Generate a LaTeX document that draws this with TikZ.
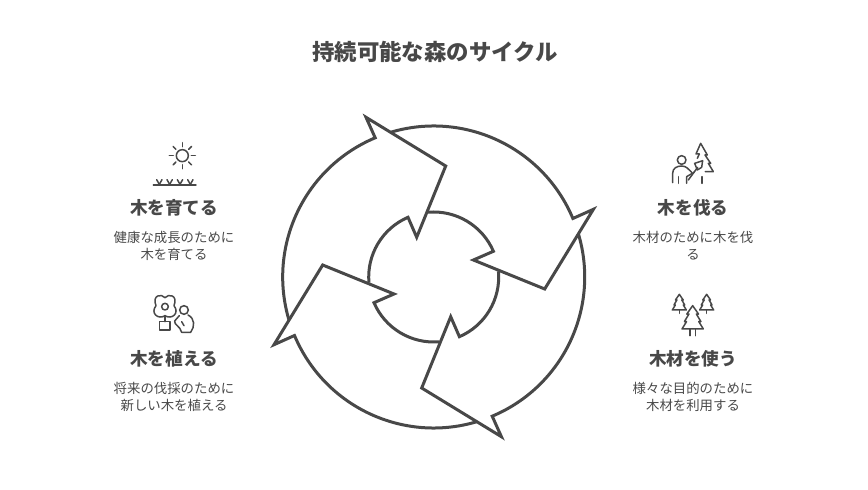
\documentclass[tikz,border=0pt]{standalone}
\usepackage{fontspec}
\setmainfont{Noto Sans CJK JP}
\definecolor{ink}{HTML}{484848}
\tikzstyle{title} = [text=ink, font=\fontsize{22.4}{26}\bfseries\selectfont]
\tikzstyle{head} = [text=ink, font=\fontsize{17.6}{21}\bfseries\selectfont]
\tikzstyle{desc} = [text=ink, align=center, font=\fontsize{13.4}{17}\selectfont]
\tikzstyle{ring} = [draw=ink, line width=3pt]
\tikzstyle{icon} = [draw=ink, line width=1.5pt, line cap=round, line join=round]
\tikzstyle{zoomed} = [x=0.3333pt, y=-0.3333pt]
\newcommand{\spruce}[4]{% apex x, apex y, half width, height
    \draw[icon] (#1,#2) -- ++(-0.55*#3,0.36*#4) -- ++(0.2*#3,0) -- ++(-0.42*#3,0.32*#4)
        -- ++(0.2*#3,0) -- ++(-0.43*#3,0.32*#4) -- ++(2*#3,0) -- ++(-0.43*#3,-0.32*#4)
        -- ++(0.2*#3,0) -- ++(-0.42*#3,-0.32*#4) -- ++(0.2*#3,0) -- cycle;
}
\begin{document}
\begin{tikzpicture}[x=1pt, y=1pt]
\useasboundingbox (0,0) rectangle (868,490);
\coordinate (cn) at (433.7,213);

\node[title] (main) at (435,438) {持続可能な森のサイクル};

% the four arrows
\foreach \a in {0,90,180,270} {
    \begin{scope}[shift={(cn)}, rotate=\a]
        \draw[ring] (185:65) arc[start angle=185, end angle=113.3, radius=65]
            -- (-17,39.7) -- (12,111) -- (-67.7,159.7) -- (112.8:151)
            arc[start angle=112.8, end angle=196.5, radius=151];
    \end{scope}
}

\node[head] (growH) at (174,282.5) {木を育てる};
\node[desc] (growD) at (174,244.5) {健康な成長のために\\木を育てる};
\node[head] (plantH) at (174,131.5) {木を植える};
\node[desc] (plantD) at (174,93) {将来の伐採のために\\新しい木を植える};
\node[head] (cutH) at (693,282.5) {木を伐る};
\node[desc] (cutD) at (693,244.5) {木材のために木を伐\\る};
\node[head] (useH) at (693,131.5) {木材を使う};
\node[desc] (useD) at (693,93) {様々な目的のために\\木材を利用する};

% sun and grass
\begin{scope}[shift={(100,360)}, zoomed]
    \draw[icon] (247,77) circle (18);
    \foreach \r in {0,45,...,315} {
        \draw[icon] (247,77) ++(\r:27) -- ++(\r:12);
    }
    \draw[icon] (160,165) -- (288,165);
    \foreach \s in {178,209,240,271} {
        \draw[icon] (\s,163) -- (\s-8,149);
        \draw[icon] (\s,163) -- (\s+8,149);
    }
\end{scope}

% flower pot and person
\begin{scope}[shift={(100,205)}, zoomed]
    \draw[icon] (195,65) circle (10);
    \draw[icon] (195,38) .. controls (185,25) and (155,30) .. (168,62)
        .. controls (150,85) and (175,105) .. (195,92)
        .. controls (215,105) and (240,85) .. (222,62)
        .. controls (235,30) and (205,25) .. (195,38);
    \draw[icon] (195,92) -- (195,110);
    \draw[icon] (178,110) rectangle (210,135);
    \draw[icon] (252,75) circle (13);
    \draw[icon] (238,92) -- (224,108) .. controls (222,120) and (240,122) .. (245,142)
        -- (272,142) .. controls (285,125) and (285,100) .. (264,90);
    \draw[icon] (245,110) -- (252,122);
\end{scope}

% person with axe beside a tree
\begin{scope}[shift={(620,360)}, zoomed]
    \draw[icon] (185,90) circle (13);
    \draw[icon] (158,158) -- (158,130) .. controls (158,115) and (170,108) .. (185,108)
        .. controls (200,108) and (205,118) .. (215,127);
    \draw[icon] (175,140) -- (175,160);
    \draw[icon] (200,160) -- (200,140) -- (222,127);
    \draw[icon] (205,150) -- (233,112);
    \draw[icon] (224,100) -- (248,92) -- (245,112) -- (232,120) -- cycle;
    \draw[icon] (232,85) -- (238,72) -- (228,72) -- (242,40) -- (262,75) -- (255,75)
        -- (272,100) -- (265,100) -- (280,125) -- (256,125);
    \draw[icon] (246,140) -- (246,160);
\end{scope}

% three trees
\begin{scope}[shift={(620,205)}, zoomed]
    \spruce{178}{28}{21}{47}
    \spruce{260}{28}{21}{47}
    \spruce{218}{62}{32}{70}
    \draw[icon] (178,75) -- (178,85);
    \draw[icon] (260,75) -- (260,85);
    \draw[icon] (210,132) -- (210,152);
    \draw[icon] (226,132) -- (226,152);
\end{scope}
\end{tikzpicture}
\end{document}
